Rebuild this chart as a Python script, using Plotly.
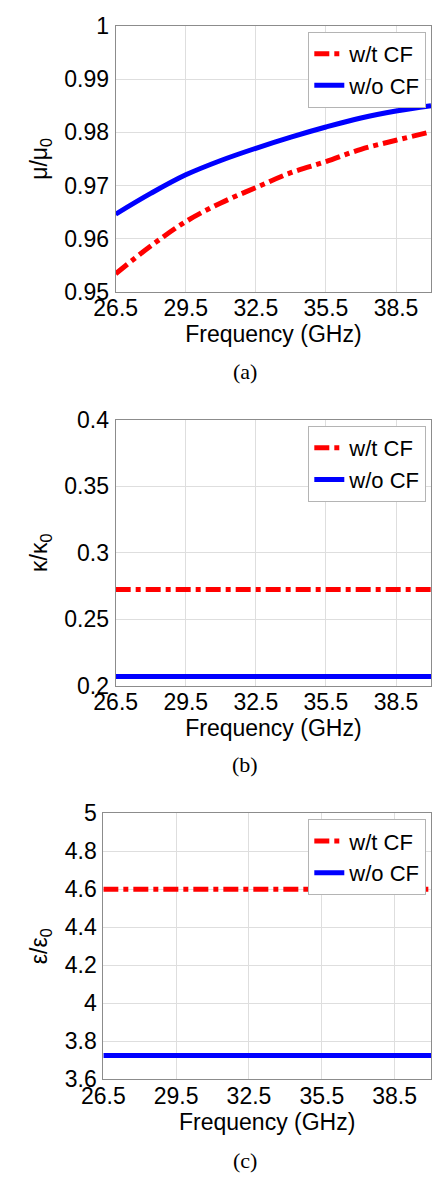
import plotly.graph_objects as go

# Frequency grid (GHz) and relative permeability curves
freq_a = [26.5, 28.0, 29.5, 31.0, 32.5, 34.0, 35.5, 37.0, 38.5, 40.0]
mu_wt_cf = [0.9534, 0.9586, 0.9632, 0.9667, 0.9696, 0.9724, 0.9745, 0.9768, 0.9785, 0.9801]
mu_wo_cf = [0.9646, 0.9685, 0.9720, 0.9747, 0.9770, 0.9791, 0.9810, 0.9827, 0.9840, 0.9850]

# Flat responses across the band
freq_flat = [26.5, 40.0]
kappa_wt_cf = [0.2723, 0.2723]
kappa_wo_cf = [0.2069, 0.2069]
eps_wt_cf = [4.6, 4.6]
eps_wo_cf = [3.725, 3.725]

series_names = ["w/t CF", "w/o CF"]
x_ticks = [26.5, 29.5, 32.5, 35.5, 38.5]
y_ticks_a = [0.95, 0.96, 0.97, 0.98, 0.99, 1.0]
y_ticks_b = [0.2, 0.25, 0.3, 0.35, 0.4]
y_ticks_c = [3.6, 3.8, 4.0, 4.2, 4.4, 4.6, 4.8, 5.0]
y_titles = ["μ/μ<sub>0</sub>", "κ/κ<sub>0</sub>", "ε/ε<sub>0</sub>"]
captions = ["(a)", "(b)", "(c)"]

W, H = 432, 1188
FONT = "Liberation Sans, Arial, sans-serif"
FS = 23
RED = "#ff0000"
BLUE = "#0000ff"
LW = 5

fig = go.Figure()

panels = [
    (freq_a, mu_wt_cf, mu_wo_cf, "spline"),
    (freq_flat, kappa_wt_cf, kappa_wo_cf, "linear"),
    (freq_flat, eps_wt_cf, eps_wo_cf, "linear"),
]
for i, (fx, red_y, blue_y, shape) in enumerate(panels):
    suffix = "" if i == 0 else str(i + 1)
    legend_name = "legend" + suffix
    fig.add_trace(go.Scatter(
        x=fx, y=red_y, mode="lines", name=series_names[0],
        line=dict(color=RED, width=LW, dash="15px,5px,5px,5px", shape=shape),
        xaxis="x" + suffix, yaxis="y" + suffix, legend=legend_name))
    fig.add_trace(go.Scatter(
        x=fx, y=blue_y, mode="lines", name=series_names[1],
        line=dict(color=BLUE, width=LW, shape=shape),
        xaxis="x" + suffix, yaxis="y" + suffix, legend=legend_name))


def px_x(p):
    return p / W


def px_y(p):
    return 1 - p / H


# plot-area boxes in pixels: left, right, top, bottom
boxes = [
    (98.7, 431, 13.3, 285.0),
    (98.7, 431, 416.0, 687.7),
    (85.7, 431, 818.3, 1090.0),
]
y_ranges = [[0.95, 1.0], [0.2, 0.4], [3.6, 5.0]]
y_tickvals = [y_ticks_a, y_ticks_b, y_ticks_c]
y_ticktext = [
    ["0.95", "0.96", "0.97", "0.98", "0.99", "1"],
    ["0.2", "0.25", "0.3", "0.35", "0.4"],
    ["3.6", "3.8", "4", "4.2", "4.4", "4.6", "4.8", "5"],
]
legend_tops = [19.3, 422.3, 824.3]
caption_y = [366.7, 768.0, 1172.7]

axis_common = dict(
    showline=True, linecolor="#8c8c8c", linewidth=1, mirror=True,
    showgrid=True, gridcolor="#dedede", gridwidth=1,
    zeroline=False, ticks="", tickfont=dict(family=FONT, size=FS, color="black"),
)

layout = dict(
    width=W, height=H, margin=dict(l=0, r=0, t=0, b=0),
    paper_bgcolor="white", plot_bgcolor="white",
    font=dict(family=FONT, size=FS, color="black"),
    annotations=[],
)

for i in range(3):
    suffix = "" if i == 0 else str(i + 1)
    l, r, t, b = boxes[i]
    layout["xaxis" + suffix] = dict(
        axis_common,
        domain=[px_x(l), px_x(r)], range=[26.5, 40.0],
        tickvals=x_ticks, ticktext=[str(v) for v in x_ticks],
        anchor="y" + suffix, ticklabelstandoff=-4,
        title=dict(text="Frequency (GHz)", font=dict(family=FONT, size=FS), standoff=0),
    )
    layout["yaxis" + suffix] = dict(
        axis_common,
        domain=[px_y(b), px_y(t)], range=y_ranges[i],
        tickvals=y_tickvals[i], ticktext=y_ticktext[i],
        anchor="x" + suffix, ticklabelstandoff=1,
        title=dict(text=y_titles[i], font=dict(family=FONT, size=FS), standoff=10),
    )
    layout["legend" + suffix] = dict(
        x=px_x(426), xanchor="right", y=px_y(legend_tops[i]), yanchor="top",
        bgcolor="white", bordercolor="#b4b4b4", borderwidth=1,
        font=dict(family=FONT, size=22, color="black"),
        itemwidth=30, tracegroupgap=0,
    )
    layout["annotations"].append(dict(
        text=captions[i], xref="paper", yref="paper",
        x=px_x(235), y=px_y(caption_y[i]), xanchor="center", yanchor="middle",
        showarrow=False, font=dict(family="Liberation Serif, serif", size=22, color="black"),
    ))

fig.update_layout(**layout)
fig.write_html("out.html")
